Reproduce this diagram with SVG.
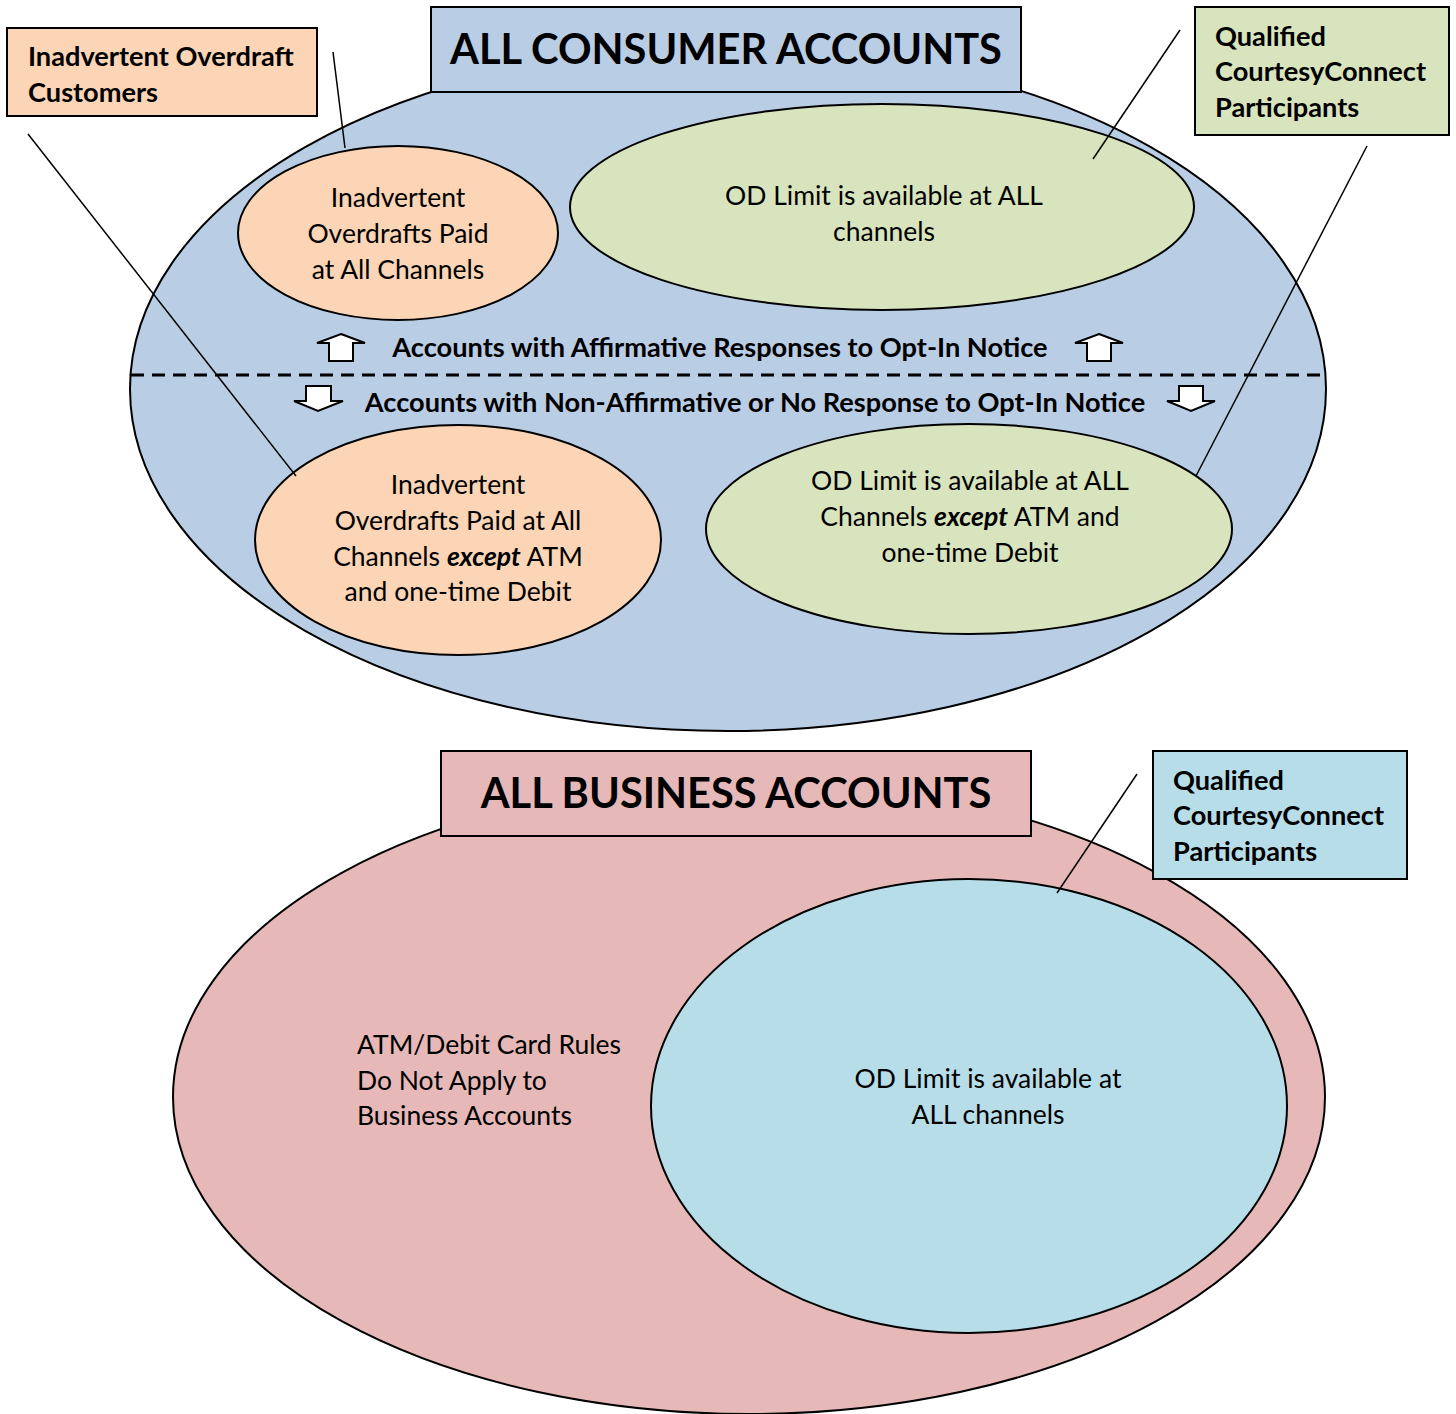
<svg xmlns="http://www.w3.org/2000/svg" width="1456" height="1414" viewBox="0 0 1456 1414">
<style>
.s{stroke:#000;stroke-width:2}
.blue{fill:#b9cde5}.peach{fill:#fbd5b5}.green{fill:#d7e4bd}.pink{fill:#e6b9b8}.lblue{fill:#b7dee8}
text{font-family:Lato,"Open Sans",sans-serif;fill:#000}
.t{font-size:26.5px;text-anchor:middle}
.l{font-size:26.5px}
.b{font-weight:bold;font-size:27.2px}
.h{font-size:41.6px;font-weight:bold;text-anchor:middle}
.arr{fill:#fff;stroke:#000;stroke-width:2;stroke-linejoin:miter}
.lead{stroke:#000;stroke-width:1.5;fill:none}
</style>
<rect width="1456" height="1414" fill="#fff"/>
<g id="consumer">
<ellipse class="blue s" cx="728" cy="389" rx="598" ry="342"/>
<rect class="blue s" x="431" y="7" width="590" height="85"/>
<text class="h" x="726" y="64">ALL CONSUMER ACCOUNTS</text>
</g>
<g id="peach-top">
<ellipse class="peach s" cx="398" cy="233" rx="160" ry="87"/>
<text class="t" x="398" y="207">Inadvertent</text>
<text class="t" x="398" y="243">Overdrafts Paid</text>
<text class="t" x="398" y="279">at All Channels</text>
</g>
<g id="green-top">
<ellipse class="green s" cx="882" cy="207" rx="312" ry="103"/>
<text class="t" x="884" y="205">OD Limit is available at ALL</text>
<text class="t" x="884" y="241">channels</text>
</g>
<g id="divider">
<line x1="131" y1="375" x2="1325" y2="375" stroke="#000" stroke-width="3" stroke-dasharray="13 8"/>
<path class="arr" d="M341,334 L365,343 L353,343 L353,361 L329,361 L329,343 L317,343 Z"/>
<path class="arr" d="M1099,334 L1123,343 L1111,343 L1111,361 L1087,361 L1087,343 L1075,343 Z"/>
<path class="arr" d="M306,386 L331,386 L331,401 L343,401 L318,411 L294,401 L306,401 Z"/>
<path class="arr" d="M1179,386 L1203,386 L1203,401 L1215,401 L1191,411 L1167,401 L1179,401 Z"/>
<text class="l b" x="720" y="357" text-anchor="middle">Accounts with Affirmative Responses to Opt-In Notice</text>
<text class="l b" x="755" y="412" text-anchor="middle">Accounts with Non-Affirmative or No Response to Opt-In Notice</text>
</g>
<g id="peach-bottom">
<ellipse class="peach s" cx="458" cy="540" rx="203" ry="115"/>
<text class="t" x="458" y="494">Inadvertent</text>
<text class="t" x="458" y="530">Overdrafts Paid at All</text>
<text class="t" x="458" y="566">Channels <tspan font-weight="bold" font-style="italic">except</tspan> ATM</text>
<text class="t" x="458" y="601">and one-time Debit</text>
</g>
<g id="green-bottom">
<ellipse class="green s" cx="969" cy="529" rx="263" ry="105"/>
<text class="t" x="970" y="490">OD Limit is available at ALL</text>
<text class="t" x="970" y="526">Channels <tspan font-weight="bold" font-style="italic">except</tspan> ATM and</text>
<text class="t" x="970" y="562">one-time Debit</text>
</g>
<g id="label-overdraft">
<rect class="peach s" x="7" y="28" width="310" height="88"/>
<text class="l b" x="28" y="66">Inadvertent Overdraft</text>
<text class="l b" x="28" y="102">Customers</text>
</g>
<g id="label-qualified-consumer">
<rect class="green s" x="1195" y="7" width="254" height="128"/>
<text class="l b" x="1215" y="46">Qualified</text>
<text class="l b" x="1215" y="81">CourtesyConnect</text>
<text class="l b" x="1215" y="117">Participants</text>
</g>
<g id="business">
<ellipse class="pink s" cx="749" cy="1097" rx="576" ry="317"/>
<rect class="pink s" x="441" y="751" width="590" height="85"/>
<text class="h" x="736" y="808">ALL BUSINESS ACCOUNTS</text>
<text class="l" x="357" y="1054">ATM/Debit Card Rules</text>
<text class="l" x="357" y="1090">Do Not Apply to</text>
<text class="l" x="357" y="1125">Business Accounts</text>
</g>
<g id="blue-business">
<ellipse class="lblue s" cx="969" cy="1106" rx="318" ry="227"/>
<text class="t" x="988" y="1088">OD Limit is available at</text>
<text class="t" x="988" y="1124">ALL channels</text>
</g>
<g id="label-qualified-business">
<rect class="lblue s" x="1153" y="751" width="254" height="128"/>
<text class="l b" x="1173" y="790">Qualified</text>
<text class="l b" x="1173" y="825">CourtesyConnect</text>
<text class="l b" x="1173" y="861">Participants</text>
</g>
<g id="connectors">
<line class="lead" x1="333" y1="52" x2="345" y2="148"/>
<line class="lead" x1="28" y1="134" x2="296" y2="476"/>
<line class="lead" x1="1180" y1="30" x2="1093" y2="159"/>
<line class="lead" x1="1367" y1="146" x2="1196" y2="476"/>
<line class="lead" x1="1137" y1="774" x2="1057" y2="893"/>
</g>
</svg>
